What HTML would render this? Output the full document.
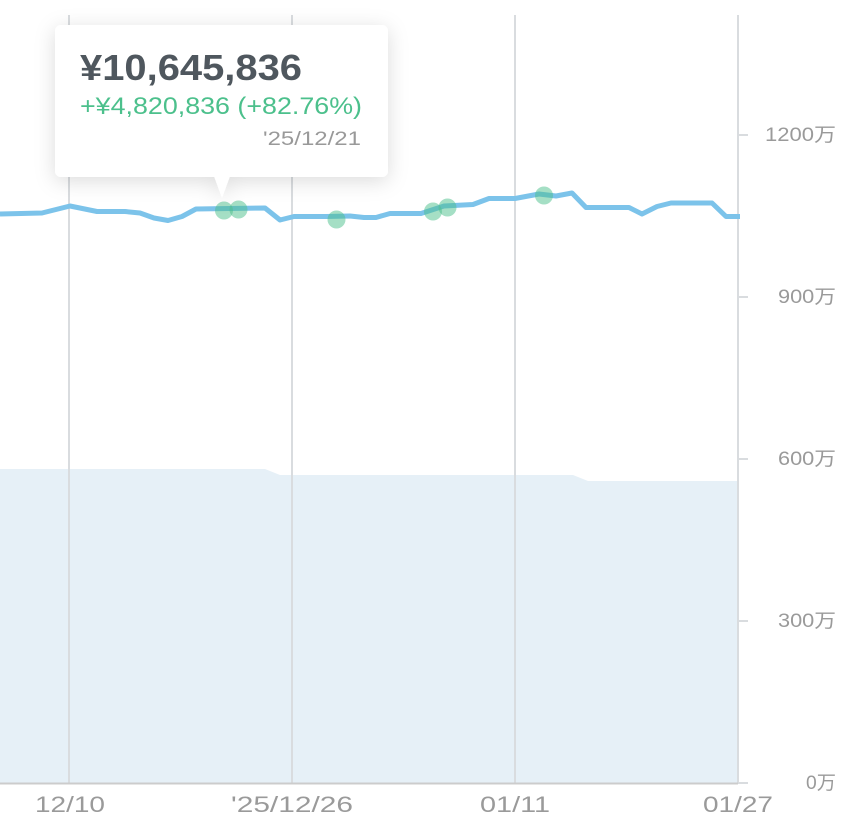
<!DOCTYPE html>
<html><head><meta charset="utf-8"><style>
body{margin:0;background:#fff;width:860px;height:826px;overflow:hidden;font-family:"Liberation Sans","Noto Sans CJK JP",sans-serif;}
</style></head><body>
<svg width="860" height="826" viewBox="0 0 860 826" xmlns="http://www.w3.org/2000/svg" style="position:absolute;left:0;top:0">
<defs>
<filter id="sh" x="-30%" y="-40%" width="160%" height="180%"><feDropShadow dx="0" dy="4" stdDeviation="10" flood-color="#000" flood-opacity="0.14"/></filter>
</defs>
<polygon points="0,469 265,469 280,475 573,475 588,481 738,481 738,783 0,783" fill="#e6f0f7"/>
<g stroke="#d9dcdf" stroke-width="2">
<line x1="69" y1="15" x2="69" y2="783"/>
<line x1="292" y1="15" x2="292" y2="783"/>
<line x1="515" y1="15" x2="515" y2="783"/>
<line x1="738" y1="15" x2="738" y2="783"/>
<line x1="0" y1="783.5" x2="738" y2="783.5" stroke="#ccc"/>
<line x1="738" y1="135" x2="748" y2="135"/>
<line x1="738" y1="297" x2="748" y2="297"/>
<line x1="738" y1="459" x2="748" y2="459"/>
<line x1="738" y1="621" x2="748" y2="621"/>
<line x1="738" y1="783" x2="748" y2="783"/>
</g>
<polyline fill="none" stroke="#7cc3ea" stroke-width="5" stroke-linejoin="round" points="0,214 42,213 70,206 97,211.5 125,211.5 140,213 154,218 168,220.5 182,216.5 196,209 265,208 280,220 294,216.5 326,216.5 350,216 364,217.5 376,217.5 390,213.5 421,213.5 444,206 473,204.5 489,198.5 515,198.5 539,194 556,196 572,193 586,207.5 629,207.5 642,214 657,206.5 671,203 712,203 726,216.5 740,216.5"/>
<g fill="#4cc08c" fill-opacity="0.5">
<circle cx="224" cy="210.5" r="9"/><circle cx="238.5" cy="209.5" r="9"/><circle cx="336.5" cy="219.5" r="9"/><circle cx="433" cy="211.5" r="9"/><circle cx="447.5" cy="207.5" r="9"/><circle cx="544" cy="195.5" r="9"/>
</g>
<g filter="url(#sh)">
<rect x="55" y="25" width="333" height="152" rx="6" fill="#fff"/>
<polygon points="214,176 230,176 222,198" fill="#fff"/>
</g>
<polygon points="213,170 231,170 222,196" fill="#fff"/>
<text x="80" y="80" font-size="36" font-weight="bold" fill="#4f575e" textLength="222" lengthAdjust="spacingAndGlyphs">¥10,645,836</text>
<text x="80" y="114" font-size="24" fill="#4cc08c" textLength="282" lengthAdjust="spacingAndGlyphs">+¥4,820,836 (+82.76%)</text>
<text x="263" y="145" font-size="19" fill="#999" textLength="98" lengthAdjust="spacingAndGlyphs">'25/12/21</text>
<g font-size="19" fill="#9a9a9a">
<text x="765" y="141" textLength="71" lengthAdjust="spacingAndGlyphs">1200万</text>
<text x="778" y="303" textLength="58" lengthAdjust="spacingAndGlyphs">900万</text>
<text x="778" y="465" textLength="58" lengthAdjust="spacingAndGlyphs">600万</text>
<text x="778" y="627" textLength="58" lengthAdjust="spacingAndGlyphs">300万</text>
<text x="806" y="789" textLength="30" lengthAdjust="spacingAndGlyphs">0万</text>
</g>
<g font-size="22" fill="#9a9a9a">
<text x="35" y="812" textLength="70" lengthAdjust="spacingAndGlyphs">12/10</text>
<text x="231" y="812" textLength="122" lengthAdjust="spacingAndGlyphs">'25/12/26</text>
<text x="480" y="812" textLength="70" lengthAdjust="spacingAndGlyphs">01/11</text>
<text x="703" y="812" textLength="70" lengthAdjust="spacingAndGlyphs">01/27</text>
</g>
</svg>
</body></html>
